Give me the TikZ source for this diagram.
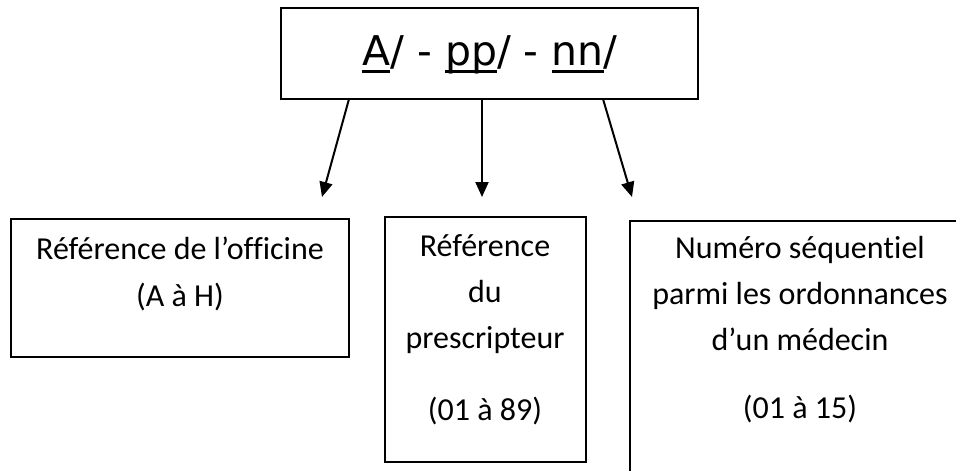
\documentclass[tikz,border=0pt]{standalone}
\usepackage{fontspec}
\setmainfont{Carlito}[Ligatures=NoCommon]
\newfontfamily\codefont{DejaVu Sans}
\usetikzlibrary{arrows.meta}

% underline a part of the code at a fixed depth below the baseline
\newcommand\ulpart[1]{\setbox0\hbox{#1}\rlap{\rule[-7.5pt]{\wd0}{2.8pt}}\box0}

\begin{document}
\begin{tikzpicture}[x=1pt,y=-1pt,
  codebox/.style={draw, line width=2.4pt, inner sep=0pt, outer sep=0pt, anchor=north west},
  infobox/.style={draw, line width=1.6pt, inner sep=0pt, outer sep=0pt, anchor=north west},
  codetext/.style={anchor=base, inner sep=0pt, font=\codefont\fontsize{41}{48}\selectfont},
  infotext/.style={anchor=base, inner sep=0pt, font=\fontsize{32}{38}\selectfont},
  arrow/.style={line width=2pt, -{Triangle[length=15pt,width=13pt]}}]
\useasboundingbox (0,0) rectangle (956,471);
\clip (0,0) rectangle (956,471);

% code box
\node[codebox, minimum width=417pt, minimum height=91pt] (code) at (281,8) {};
\node[codetext] (codelabel) at (490,65) {\ulpart{A}/ - \ulpart{pp}/ - \ulpart{nn}/};

% three description boxes
\node[infobox, minimum width=338pt, minimum height=138pt] (officine) at (11,219) {};
\node[infobox, minimum width=201pt, minimum height=245pt] (prescr) at (385,217) {};
\node[infobox, minimum width=340pt, minimum height=300pt] (numero) at (630,221) {};

% box texts
\node[infotext] (o1) at (180,259) {Référence de l’officine};
\node[infotext] (o2) at (180,306) {(A à H)};

\node[infotext] (p1) at (485,256) {Référence};
\node[infotext] (p2) at (485,302) {du};
\node[infotext] (p3) at (485,348) {prescripteur};
\node[infotext] (p4) at (485,420) {(01 à 89)};

\node[infotext] (n1) at (800,258) {Numéro séquentiel};
\node[infotext] (n2) at (800,304) {parmi les ordonnances};
\node[infotext] (n3) at (800,350) {d’un médecin};
\node[infotext] (n4) at (800,418) {(01 à 15)};

% arrow ends
\coordinate (t1) at (322,197);
\coordinate (t2) at (482,197);
\coordinate (t3) at (632,197);

\draw[arrow] ([xshift=-140.5pt]code.south) -- (t1);
\draw[arrow] ([xshift=-7.5pt]code.south) -- (t2);
\draw[arrow] ([xshift=113.5pt]code.south) -- (t3);
\end{tikzpicture}
\end{document}
